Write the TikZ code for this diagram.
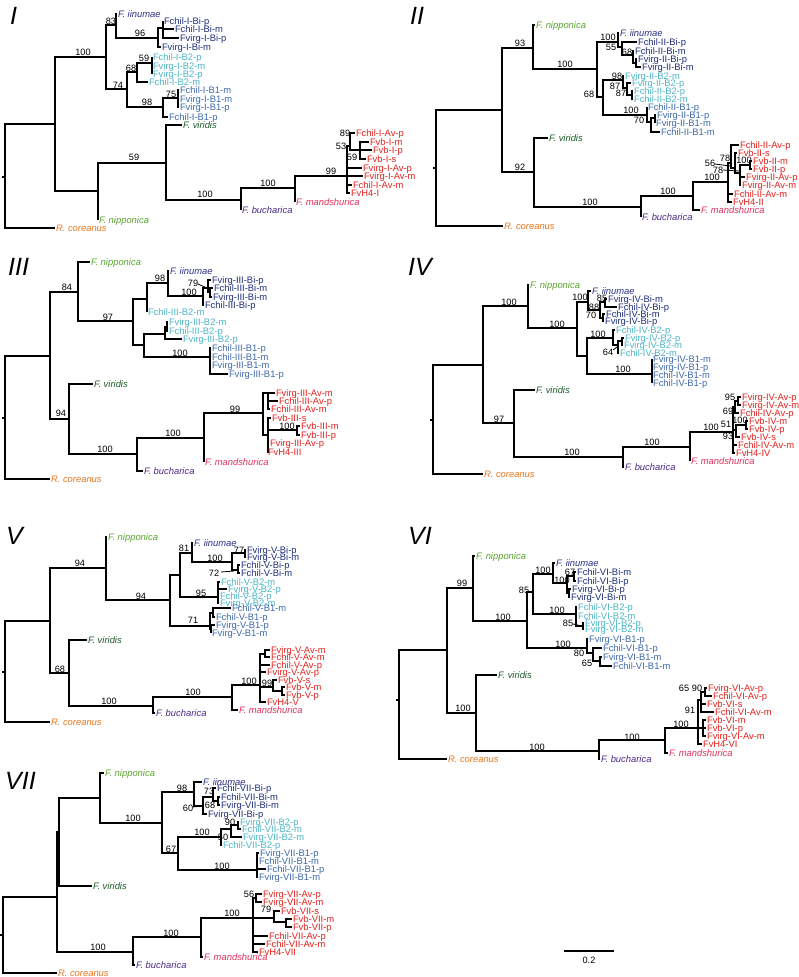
\documentclass[tikz,border=0pt]{standalone}
\usepackage{fontspec}
\setmainfont{Liberation Sans}
\definecolor{cnip}{HTML}{5BA52E}
\definecolor{cvir}{HTML}{1E5C2A}
\definecolor{cbi}{HTML}{1F2F7A}
\definecolor{ciin}{HTML}{2C3285}
\definecolor{cbtwo}{HTML}{4DB6C6}
\definecolor{cbone}{HTML}{3F6AAA}
\definecolor{cav}{HTML}{E3231E}
\definecolor{cman}{HTML}{E0325C}
\definecolor{cbuc}{HTML}{4B2A86}
\definecolor{ccor}{HTML}{E8771E}
\newcommand\fsz{\fontsize{9.4}{10}\selectfont}
\newcommand\fsb{\fontsize{9.2}{10}\selectfont}
\newcommand\tnode[4]{\coordinate (#1) at (#2,#3); \draw[br] (#4) |- (#1);}
\newcommand\tleaf[6]{\coordinate (#1) at (#2,#3); \draw[br] (#4) |- (#1); \node[lab,text=#5] (#1t) at (#1) {#6};}
\newcommand\tbs[3]{\node[bsn] at (#1,#2) {#3};}
\newcommand\troot[3]{\coordinate (#1) at (#2,#3); \coordinate (#1s) at (#2-3,#3); \draw[br] (#1s) -- (#1);}
\newcommand\tld[4]{\draw[ld] (#1,#2) -- (#3,#4);}
\begin{document}
\begin{tikzpicture}[x=1pt,y=-1pt,
  br/.style={line width=2pt},
  ld/.style={line width=0.8pt},
  lab/.style={font=\fsz, inner sep=0.8pt, anchor=west, text height=6.7pt, text depth=0pt},
  bsn/.style={font=\fsb, inner sep=0pt, text height=6.6pt, text depth=0pt},
  num/.style={font=\fontsize{25}{25}\selectfont\itshape, anchor=west, inner sep=0pt}]
\useasboundingbox (0,0) rectangle (799,977);
\fill[white] (0,0) rectangle (799,977);
% ---------- numerals
\node[num] (nI) at (10,16) {I};
\node[num] (nII) at (410,16) {II};
\node[num] (nIII) at (8,267) {III};
\node[num] (nIV) at (408,267) {IV};
\node[num] (nV) at (6,536) {V};
\node[num] (nVI) at (408,536) {VI};
\node[num] (nVII) at (5,781) {VII};
% ================= PANEL I
\troot{aR}{5}{177}
\tnode{aA}{55}{124}{aR}
\tleaf{aCor}{55}{228}{aR}{ccor}{\textit{R. coreanus}}
\tnode{aB}{106}{57}{aA} \tbs{83}{52}{100}
\tnode{aG}{98}{191}{aA}
\tnode{aC}{116}{25}{aB} \tbs{111}{21}{83}
\tnode{aH}{127}{89}{aB} \tbs{118}{85}{74}
\tleaf{aIin}{117}{14}{aC}{ciin}{\textit{F. iinumae}}
\tnode{aD}{158}{38}{aC} \tbs{140}{33}{96}
\tnode{aE}{163}{28}{aD}
\tleaf{a1}{163}{21}{aE}{cbi}{Fchil-I-Bi-p}
\tleaf{a2}{174}{29}{aE}{cbi}{Fchil-I-Bi-m}
\tleaf{a3}{179}{38}{aE}{cbi}{Fvirg-I-Bi-p}
\tleaf{a4}{161}{47}{aD}{cbi}{Fvirg-I-Bi-m}
\tnode{aI}{137}{72}{aH} \tbs{131}{68}{68}
\tnode{aK}{152}{63}{aI} \tbs{144}{58}{59}
\tleaf{a5}{152}{57}{aK}{cbtwo}{Fchil-I-B2-p}
\tleaf{a6}{152}{66}{aK}{cbtwo}{Fvirg-I-B2-m}
\tleaf{a7}{152}{74}{aK}{cbtwo}{Fvirg-I-B2-p}
\tleaf{a8}{148}{82}{aI}{cbtwo}{Fchil-I-B2-m}
\tnode{aJ}{163}{107}{aH} \tbs{147}{102}{98}
\tnode{aL}{178}{98}{aJ} \tbs{171}{94}{75}
\tleaf{a9}{179}{90}{aL}{cbone}{Fchil-I-B1-m}
\tleaf{a10}{179}{99}{aL}{cbone}{Fvirg-I-B1-m}
\tleaf{a11}{179}{107}{aL}{cbone}{Fvirg-I-B1-p}
\tleaf{a12}{168}{117}{aJ}{cbone}{Fchil-I-B1-p}
\tleaf{aNip}{98}{220}{aG}{cnip}{\textit{F. nipponica}}
\tnode{aM}{166}{163}{aG} \tbs{134}{157}{59}
\tleaf{aVir}{182}{125}{aM}{cvir}{\textit{F. viridis}}
\tnode{aN}{241}{200}{aM} \tbs{205}{194}{100}
\tleaf{aBuc}{241}{210}{aN}{cbuc}{\textit{F. bucharica}}
\tnode{aO}{295}{188}{aN} \tbs{268}{183}{100}
\tleaf{aMan}{295}{202}{aO}{cman}{\textit{F. mandshurica}}
\tnode{aP}{347}{176}{aO} \tbs{331}{171}{99}
\tnode{aQ}{350}{146}{aP} \tbs{341}{146}{53}
\tleaf{a13}{355}{133}{aQ}{cav}{Fchil-I-Av-p} \tbs{345}{133}{89}
\tnode{aS}{360}{150}{aQ} \tbs{352}{157}{59}
\tleaf{a14}{369}{142}{aS}{cav}{Fvb-I-m}
\tleaf{a15}{372}{150}{aS}{cav}{Fvb-I-p}
\tleaf{a16}{366}{159}{aS}{cav}{Fvb-I-s}
\tleaf{a17}{362}{168}{aP}{cav}{Fvirg-I-Av-p}
\tleaf{a18}{363}{176}{aP}{cav}{Fvirg-I-Av-m}
\tleaf{a19}{352}{185}{aP}{cav}{Fchil-I-Av-m}
\tleaf{a20}{350}{193}{aP}{cav}{FvH4-I}
% ================= PANEL II
\troot{bR}{436}{168}
\tleaf{bCor}{503}{226}{bR}{ccor}{\textit{R. coreanus}}
\tnode{bA}{502}{110}{bR}
\tnode{bB}{533}{48}{bA} \tbs{520}{43}{93}
\tnode{bG}{534}{172}{bA} \tbs{520}{167}{92}
\tleaf{bNip}{535}{25}{bB}{cnip}{\textit{F. nipponica}}
\tnode{bC}{597}{69}{bB} \tbs{565}{64}{100}
\tnode{bD}{618}{42}{bC} \tbs{608}{37}{100}
\tleaf{bIin}{619}{33}{bD}{ciin}{\textit{F. iinumae}}
\tnode{bE}{622}{47}{bD} \tbs{611}{47}{55}
\tleaf{b1}{637}{42}{bE}{cbi}{Fchil-II-Bi-p}
\tnode{bF}{633}{55}{bE} \tbs{627}{52}{68}
\tleaf{b2}{634}{51}{bF}{cbi}{Fchil-II-Bi-m}
\tnode{bH}{636}{63}{bF}
\tleaf{b3}{637}{59}{bH}{cbi}{Fvirg-II-Bi-p}
\tleaf{b4}{641}{67}{bH}{cbi}{Fvirg-II-Bi-m}
\tnode{bQ}{603}{97}{bC} \tbs{589}{94}{68}
\tnode{bRR}{623}{80}{bQ} \tbs{617}{76}{98}
\tleaf{b5}{624}{76}{bRR}{cbtwo}{Fvirg-II-B2-m}
\tnode{bT}{627}{88}{bRR} \tbs{615}{86}{87}
\tleaf{b6}{631}{83}{bT}{cbtwo}{Fvirg-II-B2-p}
\tnode{bU}{632}{95}{bT} \tbs{621}{93}{87}
\tleaf{b7}{633}{91}{bU}{cbtwo}{Fchil-II-B2-p}
\tleaf{b8}{633}{99}{bU}{cbtwo}{Fchil-II-B2-m}
\tnode{bS}{647}{115}{bQ} \tbs{631}{110}{100}
\tleaf{b9}{647}{107}{bS}{cbone}{Fchil-II-B1-p}
\tnode{bV}{651}{122}{bS} \tbs{639}{120}{70}
\tnode{bW}{655}{118}{bV}
\tleaf{b10}{656}{115}{bW}{cbone}{Fvirg-II-B1-p}
\tleaf{b11}{655}{123}{bW}{cbone}{Fvirg-II-B1-m}
\tleaf{b12}{660}{132}{bV}{cbone}{Fchil-II-B1-m}
\tleaf{bVir}{548}{138}{bG}{cvir}{\textit{F. viridis}}
\tnode{bN}{641}{207}{bG} \tbs{590}{202}{100}
\tleaf{bBuc}{641}{217}{bN}{cbuc}{\textit{F. bucharica}}
\tnode{bO}{693}{196}{bN} \tbs{668}{191}{100}
\tleaf{bMan}{700}{210}{bO}{cman}{\textit{F. mandshurica}}
\tnode{bP}{728}{182}{bO} \tbs{712}{177}{100}
\tleaf{b13}{732}{202}{bP}{cav}{FvH4-II}
\tleaf{b14}{733}{194}{bP}{cav}{Fchil-II-Av-m}
\tnode{bX}{731}{163}{bP} \tbs{710}{163}{56} \tld{715}{164}{730}{166}
\tleaf{b15}{739}{145}{bX}{cav}{Fchil-II-Av-p}
\tnode{bY}{735}{168}{bX} \tbs{725}{158}{78}
\tleaf{b16}{737}{153}{bY}{cav}{Fvb-II-s}
\tnode{bZ}{740}{173}{bY} \tbs{718}{170}{78} \tld{723}{170}{739}{171}
\tnode{bZZ}{750}{165}{bZ} \tbs{744}{160}{100}
\tleaf{b17}{752}{161}{bZZ}{cav}{Fvb-II-m}
\tleaf{b18}{752}{169}{bZZ}{cav}{Fvb-II-p}
\tleaf{b19}{745}{177}{bZ}{cav}{Fvirg-II-Av-p}
\tleaf{b20}{741}{185}{bZ}{cav}{Fvirg-II-Av-m}
% ================= PANEL III
\troot{cR}{5}{418}
\tleaf{cCor}{50}{479}{cR}{ccor}{\textit{R. coreanus}}
\tnode{cA}{50}{356}{cR}
\tnode{cB}{78}{292}{cA} \tbs{67}{287}{84}
\tnode{cG}{69}{419}{cA} \tbs{61}{413}{94}
\tleaf{cNip}{90}{262}{cB}{cnip}{\textit{F. nipponica}}
\tnode{cC}{133}{321}{cB} \tbs{108}{317}{97}
\tnode{cD}{147}{299}{cC}
\tnode{cE}{144}{345}{cC}
\tnode{cF}{168}{283}{cD} \tbs{160}{278}{98}
\tleaf{c1}{147}{312}{cD}{cbtwo}{Fchil-III-B2-m}
\tleaf{cIin}{169}{271}{cF}{ciin}{\textit{F. iinumae}}
\tnode{cH}{203}{296}{cF} \tbs{189}{292}{100}
\tnode{cI}{208}{288}{cH} \tbs{193}{283}{79} \tld{198}{284}{207}{288}
\tleaf{c2}{204}{305}{cH}{cbi}{Fchil-III-Bi-p}
\tleaf{c3}{211}{280}{cI}{cbi}{Fvirg-III-Bi-p}
\tnode{cJ}{210}{292}{cI}
\tleaf{c4}{213}{288}{cJ}{cbi}{Fchil-III-Bi-m}
\tleaf{c5}{212}{297}{cJ}{cbi}{Fvirg-III-Bi-m}
\tnode{cK}{165}{334}{cE}
\tnode{cL}{210}{357}{cE} \tbs{180}{353}{100}
\tnode{cM}{167}{327}{cK}
\tleaf{c6}{168}{322}{cM}{cbtwo}{Fvirg-III-B2-m}
\tleaf{c7}{168}{331}{cM}{cbtwo}{Fchil-III-B2-p}
\tleaf{c8}{182}{339}{cK}{cbtwo}{Fvirg-III-B2-p}
\tleaf{c9}{211}{348}{cL}{cbone}{Fchil-III-B1-p}
\tleaf{c10}{211}{357}{cL}{cbone}{Fchil-III-B1-m}
\tleaf{c11}{211}{365}{cL}{cbone}{Fvirg-III-B1-m}
\tleaf{c12}{228}{374}{cL}{cbone}{Fvirg-III-B1-p}
\tleaf{cVir}{93}{384}{cG}{cvir}{\textit{F. viridis}}
\tnode{cN}{137}{454}{cG} \tbs{105}{449}{100}
\tleaf{cBuc}{143}{471}{cN}{cbuc}{\textit{F. bucharica}}
\tnode{cO}{204}{438}{cN} \tbs{173}{433}{100}
\tleaf{cMan}{204}{462}{cO}{cman}{\textit{F. mandshurica}}
\tnode{cP}{263}{413}{cO} \tbs{235}{409}{99}
\tnode{cQ}{268}{393}{cP}
\tleaf{c13}{275}{393}{cQ}{cav}{Fvirg-III-Av-m}
\tleaf{c14}{278}{401}{cQ}{cav}{Fchil-III-Av-p}
\tleaf{c15}{270}{409}{cQ}{cav}{Fchil-III-Av-m}
\tnode{cS}{268}{435}{cP}
\tleaf{c16}{271}{418}{cS}{cav}{Fvb-III-s}
\tnode{cT}{297}{430}{cS} \tbs{287}{426}{100}
\tleaf{c17}{300}{426}{cT}{cav}{Fvb-III-m}
\tleaf{c18}{300}{435}{cT}{cav}{Fvb-III-p}
\tleaf{c19}{269}{443}{cS}{cav}{Fvirg-III-Av-p}
\tleaf{c20}{267}{452}{cS}{cav}{FvH4-III}
% ================= PANEL IV
\troot{dR}{433}{420}
\tleaf{dCor}{483}{474}{dR}{ccor}{\textit{R. coreanus}}
\tnode{dA}{483}{365}{dR}
\tnode{dB}{528}{306}{dA} \tbs{509}{302}{100}
\tnode{dG}{514}{423}{dA} \tbs{499}{419}{97}
\tleaf{dNip}{529}{285}{dB}{cnip}{\textit{F. nipponica}}
\tnode{dC}{577}{328}{dB} \tbs{557}{324}{100}
\tnode{dD}{588}{302}{dC} \tbs{580}{297}{100}
\tnode{dE}{587}{356}{dC}
\tleaf{dIin}{591}{291}{dD}{ciin}{\textit{F. iinumae}}
\tnode{dF}{600}{310}{dD} \tbs{594}{307}{88}
\tnode{dGq}{605}{302}{dF} \tbs{602}{298}{85}
\tleaf{d1}{607}{299}{dGq}{cbi}{Fvirg-IV-Bi-m}
\tleaf{d2}{617}{307}{dGq}{cbi}{Fchil-IV-Bi-p}
\tnode{dHq}{603}{318}{dF} \tbs{591}{315}{70}
\tleaf{d3}{605}{314}{dHq}{cbi}{Fchil-IV-Bi-m}
\tleaf{d4}{604}{321}{dHq}{cbi}{Fvirg-IV-Bi-p}
\tnode{dI}{613}{338}{dE} \tbs{598}{334}{100}
\tnode{dJ}{652}{374}{dE} \tbs{623}{369}{100}
\tleaf{d5}{615}{330}{dI}{cbtwo}{Fchil-IV-B2-p}
\tnode{dK}{618}{345}{dI} \tbs{608}{352}{64} \tld{613}{350}{617}{347}
\tnode{dL}{622}{341}{dK}
\tleaf{d6}{624}{338}{dL}{cbtwo}{Fvirg-IV-B2-p}
\tleaf{d7}{623}{345}{dL}{cbtwo}{Fvirg-IV-B2-m}
\tleaf{d8}{619}{353}{dK}{cbtwo}{Fchil-IV-B2-m}
\tleaf{d9}{652}{359}{dJ}{cbone}{Fvirg-IV-B1-m}
\tleaf{d10}{652}{367}{dJ}{cbone}{Fvirg-IV-B1-p}
\tleaf{d11}{652}{375}{dJ}{cbone}{Fchil-IV-B1-m}
\tleaf{d12}{652}{383}{dJ}{cbone}{Fchil-IV-B1-p}
\tleaf{dVir}{535}{390}{dG}{cvir}{\textit{F. viridis}}
\tnode{dN}{623}{457}{dG} \tbs{572}{452}{100}
\tleaf{dBuc}{624}{467}{dN}{cbuc}{\textit{F. bucharica}}
\tnode{dO}{690}{447}{dN} \tbs{652}{442}{100}
\tleaf{dMan}{690}{461}{dO}{cman}{\textit{F. mandshurica}}
\tnode{dP}{733}{432}{dO} \tbs{711}{427}{100}
\tnode{dQ}{735}{407}{dP}
\tnode{dQa}{738}{401}{dQ} \tbs{730}{397}{95}
\tleaf{d13}{741}{397}{dQa}{cav}{Fvirg-IV-Av-p}
\tleaf{d14}{741}{405}{dQa}{cav}{Fvirg-IV-Av-m}
\tleaf{d15}{739}{413}{dQ}{cav}{Fchil-IV-Av-p} \tbs{728}{411}{69}
\tnode{dRr}{736}{430}{dP} \tbs{726}{424}{51}
\tnode{dRa}{746}{425}{dRr} \tbs{740}{420}{100}
\tleaf{d16}{748}{421}{dRa}{cav}{Fvb-IV-m}
\tleaf{d17}{748}{429}{dRa}{cav}{Fvb-IV-p}
\tleaf{d18}{740}{437}{dRr}{cav}{Fvb-IV-s} \tbs{728}{436}{93}
\tleaf{d19}{737}{445}{dP}{cav}{Fchil-IV-Av-m}
\tleaf{d20}{735}{453}{dP}{cav}{FvH4-IV}
% ================= PANEL V
\troot{eR}{5}{672}
\tleaf{eCor}{50}{722}{eR}{ccor}{\textit{R. coreanus}}
\tnode{eA}{50}{621}{eR}
\tnode{eB}{106}{568}{eA} \tbs{80}{563}{94}
\tnode{eG}{69}{673}{eA} \tbs{60}{669}{68}
\tleaf{eNip}{107}{537}{eB}{cnip}{\textit{F. nipponica}}
\tnode{eC}{170}{600}{eB} \tbs{141}{596}{94}
\tnode{eD}{180}{575}{eC}
\tnode{eE}{210}{626}{eC} \tbs{193}{620}{71}
\tnode{eF}{192}{553}{eD} \tbs{184}{548}{81}
\tnode{eH}{218}{597}{eD} \tbs{201}{593}{95}
\tleaf{eIin}{193}{543}{eF}{ciin}{\textit{F. iinumae}}
\tnode{eI}{232}{562}{eF} \tbs{215}{558}{100}
\tnode{eJ}{245}{553}{eI} \tbs{239}{550}{77}
\tleaf{e1}{246}{550}{eJ}{cbi}{Fvirg-V-Bi-p}
\tleaf{e2}{246}{557}{eJ}{cbi}{Fvirg-V-Bi-m}
\tnode{eK}{238}{570}{eI} \tbs{214}{573}{72} \tld{221}{572}{234}{571}
\tleaf{e3}{240}{565}{eK}{cbi}{Fchil-V-Bi-p}
\tleaf{e4}{240}{573}{eK}{cbi}{Fchil-V-Bi-m}
\tleaf{e5}{220}{582}{eH}{cbtwo}{Fchil-V-B2-m}
\tleaf{e6}{227}{589}{eH}{cbtwo}{Fvirg-V-B2-p}
\tleaf{e7}{219}{596}{eH}{cbtwo}{Fchil-V-B2-p}
\tleaf{e8}{219}{603}{eH}{cbtwo}{Fvirg-V-B2-m}
\tnode{eL}{213}{613}{eE}
\tleaf{e9}{231}{608}{eL}{cbone}{Fchil-V-B1-m}
\tleaf{e10}{215}{617}{eL}{cbone}{Fchil-V-B1-p}
\tnode{eM}{211}{629}{eE}
\tleaf{e11}{215}{625}{eM}{cbone}{Fvirg-V-B1-p}
\tleaf{e12}{211}{633}{eM}{cbone}{Fvirg-V-B1-m}
\tleaf{eVir}{87}{640}{eG}{cvir}{\textit{F. viridis}}
\tnode{eN}{153}{706}{eG} \tbs{109}{701}{100}
\tleaf{eBuc}{155}{713}{eN}{cbuc}{\textit{F. bucharica}}
\tnode{eO}{232}{697}{eN} \tbs{193}{692}{100}
\tleaf{eMan}{238}{710}{eO}{cman}{\textit{F. mandshurica}}
\tnode{eP}{260}{685}{eO} \tbs{249}{681}{100}
\tnode{eQ}{265}{654}{eP}
\tleaf{e13}{270}{650}{eQ}{cav}{Fvirg-V-Av-m}
\tleaf{e14}{270}{657}{eQ}{cav}{Fchil-V-Av-m}
\tleaf{e15}{270}{665}{eP}{cav}{Fchil-V-Av-p}
\tleaf{e16}{266}{672}{eP}{cav}{Fvirg-V-Av-p}
\tnode{eS}{273}{687}{eP} \tbs{267}{683}{99}
\tleaf{e17}{277}{680}{eS}{cav}{Fvb-V-s}
\tnode{eT}{282}{691}{eS}
\tleaf{e18}{285}{687}{eT}{cav}{Fvb-V-m}
\tleaf{e19}{285}{695}{eT}{cav}{Fvb-V-p}
\tleaf{e20}{266}{702}{eP}{cav}{FvH4-V}
% ================= PANEL VI
\troot{fR}{399}{700}
\tleaf{fCor}{447}{759}{fR}{ccor}{\textit{R. coreanus}}
\tnode{fA}{447}{650}{fR}
\tnode{fB}{473}{588}{fA} \tbs{462}{583}{99}
\tnode{fG}{476}{713}{fA} \tbs{463}{708}{100}
\tleaf{fNip}{475}{556}{fB}{cnip}{\textit{F. nipponica}}
\tnode{fC}{527}{621}{fB} \tbs{503}{617}{100}
\tnode{fD}{533}{592}{fC} \tbs{524}{590}{85}
\tnode{fE}{587}{648}{fC} \tbs{563}{644}{100}
\tnode{fF}{553}{574}{fD} \tbs{543}{570}{100}
\tnode{fH}{576}{614}{fD} \tbs{557}{610}{100}
\tleaf{fIin}{555}{563}{fF}{ciin}{\textit{F. iinumae}}
\tnode{fI}{567}{583}{fF} \tbs{562}{580}{100}
\tnode{fJ}{574}{576}{fI} \tbs{570}{572}{67}
\tleaf{f1}{576}{572}{fJ}{cbi}{Fchil-VI-Bi-m}
\tleaf{f2}{576}{581}{fJ}{cbi}{Fchil-VI-Bi-p}
\tnode{fK}{569}{593}{fI}
\tleaf{f3}{571}{589}{fK}{cbi}{Fvirg-VI-Bi-p}
\tleaf{f4}{570}{597}{fK}{cbi}{Fvirg-VI-Bi-m}
\tleaf{f5}{577}{607}{fH}{cbtwo}{Fchil-VI-B2-p}
\tleaf{f6}{577}{616}{fH}{cbtwo}{Fchil-VI-B2-m}
\tnode{fL}{583}{626}{fH} \tbs{568}{623}{85} \tld{573}{624}{582}{626}
\tleaf{f7}{584}{623}{fL}{cbtwo}{Fvirg-VI-B2-p}
\tleaf{f8}{584}{629}{fL}{cbtwo}{Fvirg-VI-B2-m}
\tleaf{f9}{588}{639}{fE}{cbone}{Fvirg-VI-B1-p}
\tnode{fM}{593}{653}{fE} \tbs{579}{653}{80}
\tleaf{f10}{602}{648}{fM}{cbone}{Fchil-VI-B1-p}
\tnode{fNn}{600}{661}{fM} \tbs{587}{663}{65}
\tleaf{f11}{602}{657}{fNn}{cbone}{Fvirg-VI-B1-m}
\tleaf{f12}{612}{666}{fNn}{cbone}{Fchil-VI-B1-m}
\tleaf{fVir}{497}{675}{fG}{cvir}{\textit{F. viridis}}
\tnode{fN}{599}{751}{fG} \tbs{537}{747}{100}
\tleaf{fBuc}{600}{759}{fN}{cbuc}{\textit{F. bucharica}}
\tnode{fO}{665}{740}{fN} \tbs{632}{737}{100}
\tleaf{fMan}{668}{753}{fO}{cman}{\textit{F. mandshurica}}
\tnode{fP}{698}{728}{fO} \tbs{681}{724}{100}
\tnode{fQ}{701}{700}{fP} \tbs{690}{710}{91}
\tnode{fQa}{705}{692}{fQ} \tbs{684}{688}{65}
\tleaf{f13}{707}{688}{fQa}{cav}{Fvirg-VI-Av-p}
\tleaf{f14}{712}{696}{fQa}{cav}{Fchil-VI-Av-p} \tbs{697}{688}{90}
\tleaf{f15}{706}{704}{fQ}{cav}{Fvb-VI-s}
\tleaf{f16}{714}{712}{fQ}{cav}{Fchil-VI-Av-m}
\tnode{fRr}{703}{728}{fP}
\tleaf{f17}{706}{720}{fRr}{cav}{Fvb-VI-m}
\tleaf{f18}{706}{728}{fRr}{cav}{Fvb-VI-p}
\tleaf{f19}{706}{736}{fRr}{cav}{Fvirg-VI-Av-m}
\tleaf{f20}{702}{744}{fP}{cav}{FvH4-VI}
% ================= PANEL VII
\troot{gR}{3}{935}
\tleaf{gCor}{57}{973}{gR}{ccor}{\textit{R. coreanus}}
\tnode{gA}{57}{897}{gR}
\tnode{gB}{59}{832}{gA}
\tnode{gN}{133}{952}{gA} \tbs{98}{947}{100}
\tnode{gC}{100}{798}{gB}
\tleaf{gVir}{92}{886}{gB}{cvir}{\textit{F. viridis}}
\tleaf{gNip}{104}{773}{gC}{cnip}{\textit{F. nipponica}}
\tnode{gD}{162}{823}{gC} \tbs{133}{818}{100}
\tnode{gE}{194}{792}{gD} \tbs{182}{788}{98}
\tnode{gF}{178}{853}{gD} \tbs{171}{849}{67}
\tleaf{gIin}{202}{782}{gE}{ciin}{\textit{F. iinumae}}
\tnode{gG}{203}{806}{gE} \tbs{188}{808}{60} \tld{193}{807}{202}{806}
\tnode{gH}{213}{797}{gG} \tbs{209}{791}{73}
\tleaf{g1}{216}{788}{gH}{cbi}{Fchil-VII-Bi-p}
\tnode{gI}{218}{801}{gH} \tbs{210}{805}{68}
\tleaf{g2}{220}{797}{gI}{cbi}{Fchil-VII-Bi-m}
\tleaf{g3}{220}{805}{gI}{cbi}{Fvirg-VII-Bi-m}
\tleaf{g4}{207}{814}{gG}{cbi}{Fvirg-VII-Bi-p}
\tnode{gJ}{221}{837}{gF} \tbs{202}{832}{100}
\tnode{gK}{257}{870}{gF} \tbs{222}{866}{100}
\tnode{gM}{231}{829}{gJ}
\tnode{gNs}{238}{825}{gM} \tbs{230}{822}{90}
\tleaf{g5}{239}{822}{gNs}{cbtwo}{Fvirg-VII-B2-p}
\tleaf{g6}{241}{829}{gNs}{cbtwo}{Fchil-VII-B2-m}
\tleaf{g7}{242}{837}{gM}{cbtwo}{Fvirg-VII-B2-m} \tbs{223}{837}{50}
\tleaf{g8}{222}{845}{gJ}{cbtwo}{Fchil-VII-B2-p}
\tleaf{g9}{259}{853}{gK}{cbone}{Fvirg-VII-B1-p}
\tleaf{g10}{258}{861}{gK}{cbone}{Fchil-VII-B1-m}
\tleaf{g11}{266}{869}{gK}{cbone}{Fchil-VII-B1-p}
\tleaf{g12}{258}{877}{gK}{cbone}{Fvirg-VII-B1-m}
\tleaf{gBuc}{135}{965}{gN}{cbuc}{\textit{F. bucharica}}
\tnode{gO}{201}{937}{gN} \tbs{171}{933}{100}
\tleaf{gMan}{203}{957}{gO}{cman}{\textit{F. mandshurica}}
\tnode{gP}{253}{918}{gO} \tbs{232}{913}{100}
\tnode{gQ}{256}{898}{gP} \tbs{249}{894}{56}
\tleaf{g13}{262}{894}{gQ}{cav}{Fvirg-VII-Av-p}
\tleaf{g14}{262}{902}{gQ}{cav}{Fvirg-VII-Av-m}
\tnode{gRr}{274}{918}{gP} \tbs{266}{909}{79}
\tleaf{g15}{280}{911}{gRr}{cav}{Fvb-VII-s}
\tnode{gSs}{286}{922}{gRr}
\tleaf{g16}{292}{919}{gSs}{cav}{Fvb-VII-m}
\tleaf{g17}{292}{927}{gSs}{cav}{Fvb-VII-p}
\tleaf{g18}{268}{936}{gP}{cav}{Fchil-VII-Av-p}
\tleaf{g19}{265}{944}{gP}{cav}{Fchil-VII-Av-m}
\tleaf{g20}{258}{952}{gP}{cav}{FvH4-VII}
% ---------- scale bar
\coordinate (sb1) at (564,951);
\coordinate (sb2) at (614,951);
\draw[br] (sb1) -- (sb2);
\node[bsn] (sbl) at (589,960) {0.2};
\end{tikzpicture}
\end{document}
